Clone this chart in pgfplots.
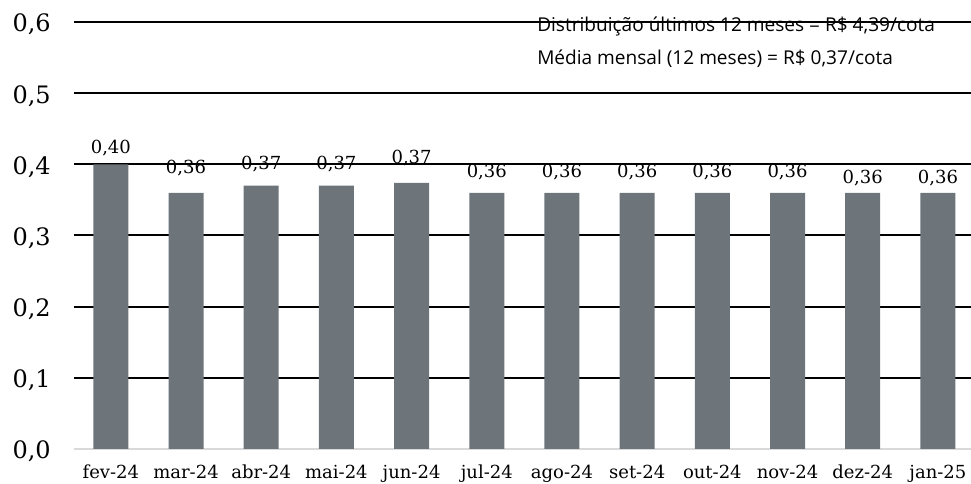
\documentclass[border=0pt]{standalone}
\usepackage{pgfplots}
\pgfplotsset{compat=1.18}
\usepackage{pgfplotstable}
\usepackage{fontspec}
\setmainfont{DejaVu Serif}
\newfontfamily\annfont{Open Sans}
\definecolor{barc}{RGB}{109,116,122}
\definecolor{axc}{RGB}{217,217,217}
\pgfplotstableread{
x y off
0 0.400 8.25
1 0.360 14.25
2 0.370 12
3 0.370 12
4 0.374 14.25
5 0.360 11.25
6 0.360 11.25
7 0.360 11.25
8 0.360 11.25
9 0.360 11.25
10 0.360 6.75
11 0.360 6.75
}\datatable
\begin{document}
\begin{tikzpicture}
\path[use as bounding box] (0,0) rectangle (728.25pt,363pt);
\begin{axis}[
  at={(55.5pt,26.25pt)}, anchor=south west,
  scale only axis, width=672.75pt, height=320.25pt,
  xmin=-0.49, xmax=11.44, ymin=0, ymax=0.6,
  axis x line*=bottom, axis y line*=left,
  axis line style={-},
  x axis line style={draw=axc, line width=1pt},
  y axis line style={draw=none},
  major tick length=0pt,
  xtick={0,...,11},
  xticklabels={fev-24,mar-24,abr-24,mai-24,jun-24,jul-24,ago-24,set-24,out-24,nov-24,dez-24,jan-25},
  xticklabel style={anchor=base, yshift=-22.5pt, font=\fontsize{13.5}{15}\selectfont, inner sep=0pt},
  ytick={0.1,0.2,0.3,0.4,0.5,0.6},
  extra y ticks={0},
  extra y tick style={grid=none},
  ymajorgrids,
  grid style={black, line width=1.5pt},
  yticklabel style={anchor=base east, xshift=-17.25pt, yshift=-7.5pt, font=\fontsize{18}{20}\selectfont, inner sep=0pt},
  /pgf/number format/.cd, fixed, fixed zerofill, precision=1, use comma, assume math mode=true,
]
\addplot[ybar, fill=barc, draw=none, bar width=26.25pt,
  point meta=explicit,
  visualization depends on={\thisrow{off} \as \off},
  nodes near coords={\pgfmathprintnumber[fixed, fixed zerofill, precision=2, use comma, assume math mode=true]{\pgfplotspointmeta}},
  nodes near coords style={anchor=base, yshift=\off pt, inner sep=0pt, font=\fontsize{13.5}{15}\selectfont, black},
] table[x=x, y=y, meta=y] {\datatable};
\end{axis}
\node[anchor=base west, inner sep=0pt, font=\annfont\fontsize{14.3}{16}\selectfont] at (402.75pt,339pt) {Distribuição últimos 12 meses = R\$ 4,39/cota};
\node[anchor=base west, inner sep=0pt, font=\annfont\fontsize{14.3}{16}\selectfont] at (402.75pt,314.25pt) {Média mensal (12 meses) = R\$ 0,37/cota};
\end{tikzpicture}
\end{document}
